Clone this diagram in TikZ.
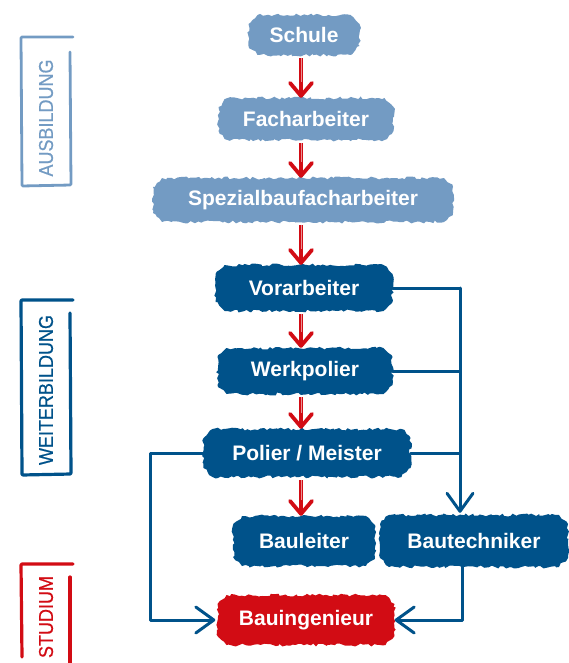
\documentclass[tikz,border=0pt]{standalone}
\usepackage{fontspec}
\setmainfont{Liberation Sans}
\newfontfamily\sidefont[FakeStretch=0.9,FakeBold=0.6]{Liberation Sans}
\usetikzlibrary{arrows.meta,decorations.pathmorphing,shapes.misc}
\definecolor{lblue}{RGB}{115,155,195}
\definecolor{dblue}{RGB}{0,82,138}
\definecolor{bred}{RGB}{210,12,20}
\begin{document}
\begin{tikzpicture}[x=1pt,y=-1pt,
  blob/.style={fill=#1, shape=chamfered rectangle, chamfered rectangle xsep=4pt,
    chamfered rectangle ysep=5pt,
    decorate, decoration={random steps, segment length=3pt, amplitude=1.5pt},
    text=white, inner sep=0pt,
    font=\bfseries\fontsize{21}{24}\selectfont},
  redshaft/.style={draw=bred, line width=3.6pt, -{Straight Barb[length=13pt, width=22pt, line width=3.8pt, round]}},
  redgap/.style={draw=bred!45!white, line width=0.8pt, shorten >=16pt},
  bluecon/.style={draw=dblue, line width=3pt, line join=round, line cap=round},
  bluearr/.style={bluecon, -{Straight Barb[length=18pt, width=26pt, line width=3pt, round]}},
  sidebox/.style={line width=#1, line cap=round, line join=round, rounded corners=1pt},
  sidelabel/.style={rotate=90, font=\sidefont\fontsize{20}{22}\selectfont, inner sep=0pt}
]
\pgfmathsetseed{11}
\useasboundingbox (0,0) rectangle (568,663);

% side brackets
\draw[sidebox=2.8pt, lblue] (73,37) -- (21,37) -- (22,186) -- (71,185) -- (70,52);
\node[sidelabel, text=lblue] (ausb) at (46,118) {AUSBILDUNG};
\draw[sidebox=3.2pt, dblue] (73,300) -- (21,300) -- (22,475) -- (71,474) -- (70,313);
\node[sidelabel, text=dblue] (weit) at (46,390) {WEITERBILDUNG};
\draw[sidebox=3.2pt, bred] (73,564) -- (21,564) -- (22,657);
\draw[sidebox=3.2pt, bred] (70,577) -- (70,663);
\node[sidelabel, text=bred] (stud) at (46,617) {STUDIUM};

% nodes
\node[blob=lblue, minimum width=111pt, minimum height=40pt] (schule) at (304,35) {Schule};
\node[blob=lblue, minimum width=175pt, minimum height=42pt] (fach) at (306,119) {Facharbeiter};
\node[blob=lblue, minimum width=300pt, minimum height=44pt] (spez) at (303,200) {Spezialbaufacharbeiter};
\node[blob=dblue, minimum width=177pt, minimum height=46pt] (vor) at (304,288) {Vorarbeiter};
\node[blob=dblue, minimum width=175pt, minimum height=46pt] (werk) at (305,371) {Werkpolier};
\node[blob=dblue, minimum width=207pt, minimum height=48pt] (polier) at (307,453) {Polier / Meister};
\node[blob=dblue, minimum width=142pt, minimum height=50pt] (bauleiter) at (304,541) {Bauleiter};
\node[blob=dblue, minimum width=188pt, minimum height=52pt] (bautech) at (474,541) {Bautechniker};
\node[blob=bred, minimum width=177pt, minimum height=50pt] (bauing) at (306,620) {Bauingenieur};

% helper coordinates
\coordinate (ax) at (301,0);
\coordinate (R1) at (460,0);
\coordinate (R2) at (462,0);
\coordinate (L1) at (150,0);

% red arrows
\foreach \a/\b in {schule/fach, fach/spez, spez/vor, vor/werk, werk/polier, polier/bauleiter}{
  \draw[redshaft] ([yshift=-3pt]\a.south -| ax) -- (\b.north -| ax);
  \draw[redgap] ([yshift=-3pt]\a.south -| ax) -- (\b.north -| ax);
}

% blue connectors
\draw[bluecon] (vor.east) -- (R1 |- vor.east);
\draw[bluecon] (werk.east) -- (R1 |- werk.east);
\draw[bluecon] (polier.east) -- (R1 |- polier.east);
\draw[bluearr] (R1 |- vor.east) -- ([yshift=2pt]R1 |- bautech.north);
\draw[bluearr] (polier.west) -- (L1 |- polier.west) -- (L1 |- bauing.west) -- ([xshift=-2pt]bauing.west);
\draw[bluearr] (R2 |- bautech.south) -- (R2 |- bauing.east) -- (bauing.east);
\end{tikzpicture}
\end{document}
